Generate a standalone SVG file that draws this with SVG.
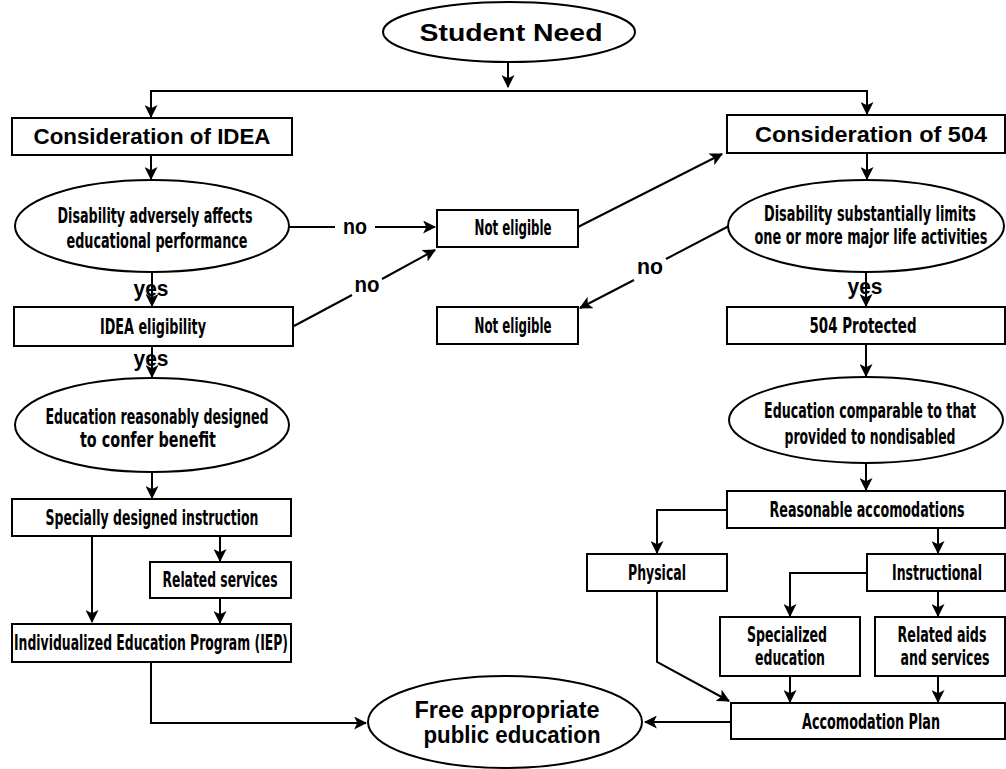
<svg xmlns="http://www.w3.org/2000/svg" width="1006" height="769" viewBox="0 0 1006 769">
<defs>
<marker id="ah" viewBox="0 0 12 12" refX="11" refY="6" markerWidth="13" markerHeight="13" markerUnits="userSpaceOnUse" orient="auto">
<path d="M0,0 L12,6 L0,12 L3,6 Z" fill="#000"/>
</marker>
<style>
.b{fill:#fff;stroke:#000;stroke-width:2}
.t{font-family:"DejaVu Sans Condensed","Liberation Sans",sans-serif;font-weight:bold;font-size:20.5px;text-anchor:middle;fill:#000}
.h{font-family:"Liberation Sans","DejaVu Sans",sans-serif;font-weight:900;font-size:22px;text-anchor:middle;fill:#000}
.c{fill:none;stroke:#000;stroke-width:2}
</style>
</defs>
<rect width="1006" height="769" fill="#fff"/>
<g id="connectors">
<path class="c" d="M508,63 V87" marker-end="url(#ah)"/>
<path class="c" d="M151,91 H867"/>
<path class="c" d="M151,90 V117" marker-end="url(#ah)"/>
<path class="c" d="M867,90 V114" marker-end="url(#ah)"/>
<path class="c" d="M151,155 V179" marker-end="url(#ah)"/>
<path class="c" d="M867,153 V179" marker-end="url(#ah)"/>
<path class="c" d="M289,227 H335"/>
<path class="c" d="M375,227 H435" marker-end="url(#ah)"/>
<path class="c" d="M578,227 L722,154" marker-end="url(#ah)"/>
<path class="c" d="M152,273 V306" marker-end="url(#ah)"/>
<path class="c" d="M294,326 L352,295"/>
<path class="c" d="M382,279 L435,250" marker-end="url(#ah)"/>
<path class="c" d="M152,346 V377" marker-end="url(#ah)"/>
<path class="c" d="M729,226 L666,259"/>
<path class="c" d="M634,280 L580,308" marker-end="url(#ah)"/>
<path class="c" d="M866,272 V306" marker-end="url(#ah)"/>
<path class="c" d="M866,344 V376" marker-end="url(#ah)"/>
<path class="c" d="M152,472 V498" marker-end="url(#ah)"/>
<path class="c" d="M92,536 V622" marker-end="url(#ah)"/>
<path class="c" d="M220,536 V561" marker-end="url(#ah)"/>
<path class="c" d="M220,598 V623" marker-end="url(#ah)"/>
<path class="c" d="M151,662 V723 H366" marker-end="url(#ah)"/>
<path class="c" d="M866,463 V490" marker-end="url(#ah)"/>
<path class="c" d="M727,510 H657 V553" marker-end="url(#ah)"/>
<path class="c" d="M938,528 V553" marker-end="url(#ah)"/>
<path class="c" d="M867,573 H790 V616" marker-end="url(#ah)"/>
<path class="c" d="M938,591 V616" marker-end="url(#ah)"/>
<path class="c" d="M657,591 V662 L729,701" marker-end="url(#ah)"/>
<path class="c" d="M790,676 V702" marker-end="url(#ah)"/>
<path class="c" d="M938,676 V702" marker-end="url(#ah)"/>
<path class="c" d="M731,722 H645" marker-end="url(#ah)"/>
</g>
<g id="labels">
<text class="h" x="355" y="234" textLength="24" lengthAdjust="spacingAndGlyphs">no</text>
<text class="h" x="367" y="292" textLength="25" lengthAdjust="spacingAndGlyphs">no</text>
<text class="h" x="650" y="274" textLength="26" lengthAdjust="spacingAndGlyphs">no</text>
<text class="h" x="151" y="296" textLength="35" lengthAdjust="spacingAndGlyphs">yes</text>
<text class="h" x="151" y="366" textLength="35" lengthAdjust="spacingAndGlyphs">yes</text>
<text class="h" x="865" y="294" textLength="35" lengthAdjust="spacingAndGlyphs">yes</text>
</g>
<g id="student-need">
<ellipse class="b" cx="509" cy="32" rx="126" ry="30"/>
<text class="h" x="511" y="41" style="font-size:24px" textLength="183" lengthAdjust="spacingAndGlyphs">Student Need</text>
</g>
<g id="consideration-idea">
<rect class="b" x="12" y="118" width="280" height="37"/>
<text class="h" x="152" y="144" textLength="237" lengthAdjust="spacingAndGlyphs">Consideration of IDEA</text>
</g>
<g id="consideration-504">
<rect class="b" x="727" y="115" width="278" height="38"/>
<text class="h" x="871" y="142" textLength="232" lengthAdjust="spacingAndGlyphs">Consideration of 504</text>
</g>
<g id="disability-adversely">
<ellipse class="b" cx="152" cy="226" rx="137" ry="46"/>
<text class="t" x="155" y="223" textLength="195" lengthAdjust="spacingAndGlyphs">Disability adversely affects</text>
<text class="t" x="157" y="248" textLength="181" lengthAdjust="spacingAndGlyphs">educational performance</text>
</g>
<g id="not-eligible-1">
<rect class="b" x="437" y="210" width="141" height="37"/>
<text class="t" x="513" y="235" textLength="77" lengthAdjust="spacingAndGlyphs">Not eligible</text>
</g>
<g id="disability-substantially">
<ellipse class="b" cx="866" cy="226" rx="138" ry="46"/>
<text class="t" x="870" y="221" textLength="212" lengthAdjust="spacingAndGlyphs">Disability substantially limits</text>
<text class="t" x="871" y="244" textLength="233" lengthAdjust="spacingAndGlyphs">one or more major life activities</text>
</g>
<g id="idea-eligibility">
<rect class="b" x="14" y="307" width="279" height="39"/>
<text class="t" x="153" y="334" textLength="106" lengthAdjust="spacingAndGlyphs">IDEA eligibility</text>
</g>
<g id="not-eligible-2">
<rect class="b" x="437" y="307" width="141" height="37"/>
<text class="t" x="513" y="333" textLength="77" lengthAdjust="spacingAndGlyphs">Not eligible</text>
</g>
<g id="protected-504">
<rect class="b" x="727" y="307" width="278" height="37"/>
<text class="t" x="863" y="333" textLength="107" lengthAdjust="spacingAndGlyphs">504 Protected</text>
</g>
<g id="education-reasonably">
<ellipse class="b" cx="152" cy="425" rx="137" ry="47"/>
<text class="t" x="157" y="424" textLength="223" lengthAdjust="spacingAndGlyphs">Education reasonably designed</text>
<text class="t" x="148" y="447" textLength="136" lengthAdjust="spacingAndGlyphs">to confer benefit</text>
</g>
<g id="education-comparable">
<ellipse class="b" cx="866" cy="420" rx="137" ry="43"/>
<text class="t" x="870" y="418" textLength="212" lengthAdjust="spacingAndGlyphs">Education comparable to that</text>
<text class="t" x="870" y="444" textLength="171" lengthAdjust="spacingAndGlyphs">provided to nondisabled</text>
</g>
<g id="specially-designed">
<rect class="b" x="12" y="499" width="279" height="37"/>
<text class="t" x="152" y="525" textLength="213" lengthAdjust="spacingAndGlyphs">Specially designed instruction</text>
</g>
<g id="related-services">
<rect class="b" x="150" y="562" width="141" height="36"/>
<text class="t" x="220" y="587" textLength="115" lengthAdjust="spacingAndGlyphs">Related services</text>
</g>
<g id="iep">
<rect class="b" x="12" y="624" width="279" height="38"/>
<text class="t" x="151" y="650" textLength="274" lengthAdjust="spacingAndGlyphs">Individualized Education Program (IEP)</text>
</g>
<g id="reasonable-accomodations">
<rect class="b" x="727" y="491" width="278" height="37"/>
<text class="t" x="867" y="517" textLength="195" lengthAdjust="spacingAndGlyphs">Reasonable accomodations</text>
</g>
<g id="physical">
<rect class="b" x="587" y="554" width="140" height="37"/>
<text class="t" x="657" y="580" textLength="58" lengthAdjust="spacingAndGlyphs">Physical</text>
</g>
<g id="instructional">
<rect class="b" x="867" y="554" width="138" height="37"/>
<text class="t" x="937" y="580" textLength="90" lengthAdjust="spacingAndGlyphs">Instructional</text>
</g>
<g id="specialized-education">
<rect class="b" x="720" y="617" width="140" height="59"/>
<text class="t" x="787" y="642" textLength="80" lengthAdjust="spacingAndGlyphs">Specialized</text>
<text class="t" x="790" y="665" textLength="70" lengthAdjust="spacingAndGlyphs">education</text>
</g>
<g id="related-aids">
<rect class="b" x="875" y="617" width="130" height="59"/>
<text class="t" x="942" y="642" textLength="89" lengthAdjust="spacingAndGlyphs">Related aids</text>
<text class="t" x="945" y="665" textLength="89" lengthAdjust="spacingAndGlyphs">and services</text>
</g>
<g id="accomodation-plan">
<rect class="b" x="731" y="703" width="274" height="36"/>
<text class="t" x="871" y="729" textLength="138" lengthAdjust="spacingAndGlyphs">Accomodation Plan</text>
</g>
<g id="fape">
<ellipse class="b" cx="505" cy="722" rx="137" ry="46"/>
<text class="h" x="507" y="718" style="font-size:23px" textLength="185" lengthAdjust="spacingAndGlyphs">Free appropriate</text>
<text class="h" x="512" y="743" style="font-size:23px" textLength="177" lengthAdjust="spacingAndGlyphs">public education</text>
</g>
</svg>
